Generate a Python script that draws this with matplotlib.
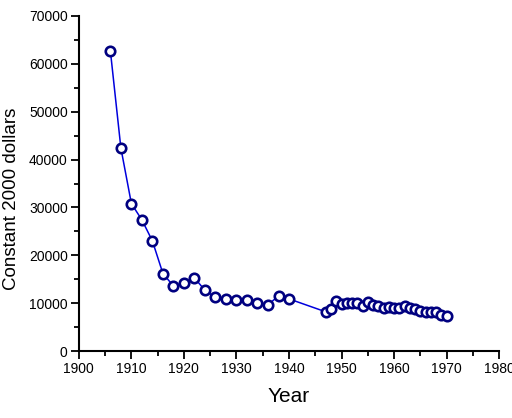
import matplotlib
matplotlib.use("Agg")
import matplotlib.pyplot as plt
from matplotlib.ticker import MultipleLocator

years = [1906, 1908, 1910, 1912, 1914, 1916, 1918, 1920, 1922, 1924, 1926, 1928,
         1930, 1932, 1934, 1936, 1938, 1940,
         1947, 1948, 1949, 1950, 1951, 1952, 1953, 1954, 1955, 1956, 1957, 1958,
         1959, 1960, 1961, 1962, 1963, 1964, 1965, 1966, 1967, 1968, 1969, 1970]
values = [62700, 42400, 30800, 27400, 23000, 16200, 13600, 14200, 15300, 12700, 11200, 10800,
          10700, 10700, 10100, 9700, 11500, 10900,
          8200, 8700, 10400, 9900, 10000, 10000, 10000, 9500, 10200, 9700, 9400, 9100,
          9300, 9000, 9000, 9400, 9000, 8800, 8400, 8200, 8200, 8200, 7600, 7400]

xticks = [1900, 1910, 1920, 1930, 1940, 1950, 1960, 1970, 1980]
yticks = [0, 10000, 20000, 30000, 40000, 50000, 60000, 70000]

plt.rcParams['font.family'] = ['Liberation Sans', 'DejaVu Sans']

fig = plt.figure(figsize=(5.12, 4.18), dpi=100)
ax = fig.add_axes([0.154, 0.160, 0.821, 0.802])

ax.plot(years, values, color='#0000DD', lw=1.1, marker='o', ms=6.8,
        mfc='white', mec='#000080', mew=1.9, zorder=3)

ax.set_xlim(1900, 1980)
ax.set_ylim(0, 70000)
ax.set_xticks(xticks)
ax.set_yticks(yticks)
ax.xaxis.set_minor_locator(MultipleLocator(5))
ax.yaxis.set_minor_locator(MultipleLocator(5000))

for s in ['top', 'right']:
    ax.spines[s].set_visible(False)
for s in ['left', 'bottom']:
    ax.spines[s].set_linewidth(1.5)

ax.tick_params(which='major', direction='out', length=6, width=1.3, labelsize=10, pad=2)
ax.tick_params(which='minor', direction='out', length=3.5, width=1.3)

ax.set_xlabel('Year', fontsize=15, labelpad=8)
ax.set_ylabel('Constant 2000 dollars', fontsize=13.5, labelpad=6)
ax.yaxis.set_label_coords(-0.14, 0.455)

fig.savefig('out.png', dpi=100)
